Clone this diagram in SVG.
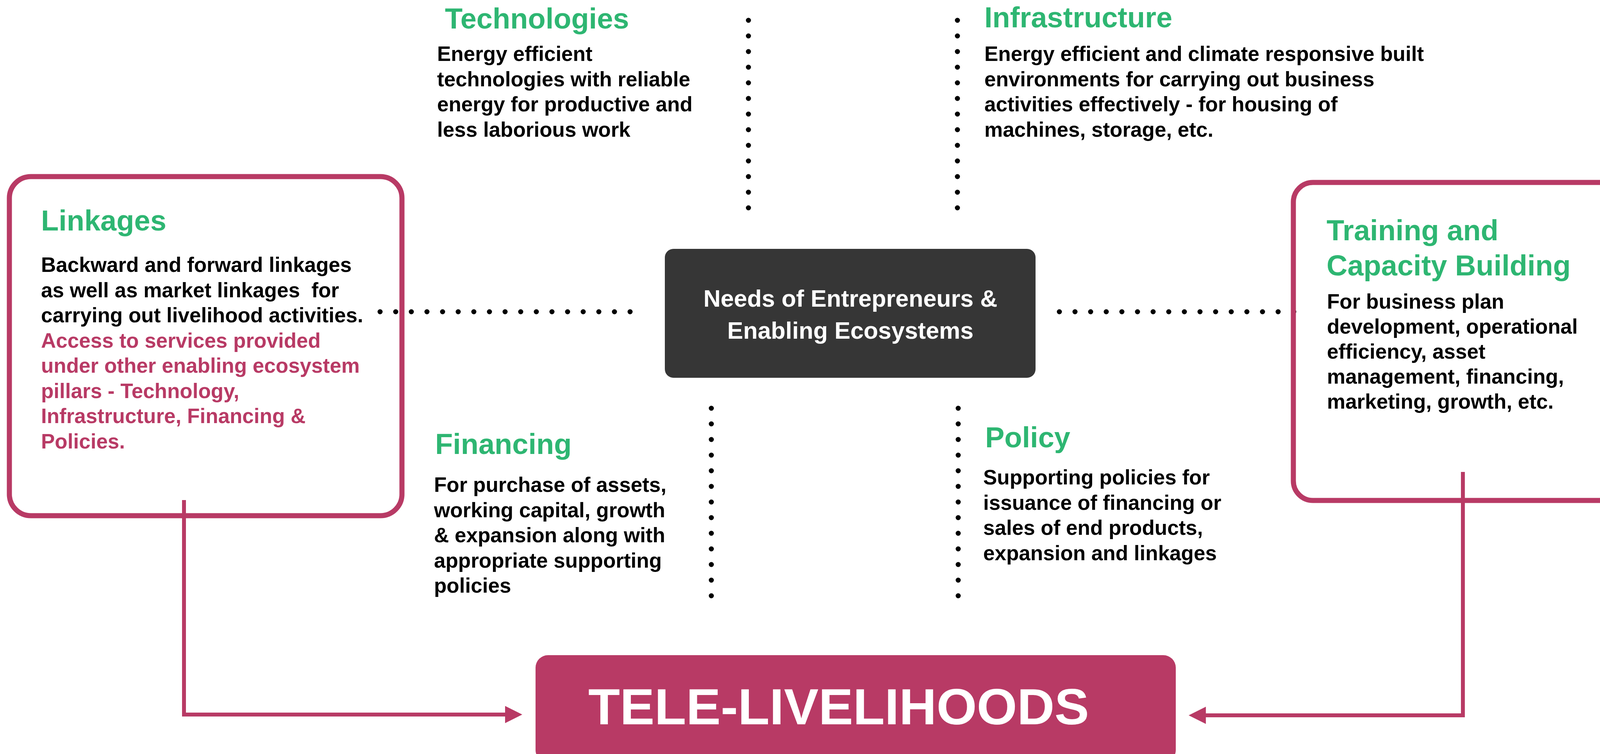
<svg xmlns="http://www.w3.org/2000/svg" width="4225" height="1930" viewBox="0 0 4225 1930">
<style>
  text { font-family: "Liberation Sans", Arial, Helvetica, sans-serif; font-weight: bold; }
  .title { font-size: 74px; fill: #2EB672; }
  .body { font-size: 53px; fill: #000000; }
  .accent { fill: #B83A65; }
  .frame { fill: none; stroke: #B83A65; stroke-width: 13; }
  .dots { fill: none; stroke: #000000; stroke-width: 13; stroke-linecap: round; stroke-dasharray: 0 40; }
  .link { fill: none; stroke: #B83A65; stroke-width: 10; }
</style>
<defs>
  <marker id="arrow" markerUnits="userSpaceOnUse" markerWidth="44" markerHeight="44" viewBox="0 0 44 44" refX="0" refY="22" orient="auto">
    <path d="M0,0 L44,22 L0,44 Z" fill="#B83A65"/>
  </marker>
</defs>
<rect x="0" y="0" width="4225" height="1930" fill="#FFFFFF"/>

<g id="connectors">
  <path class="dots" d="M1916,52 V533"/>
  <path class="dots" d="M2451,52 V533"/>
  <path class="dots" d="M1821,1045 V1526"/>
  <path class="dots" d="M2453,1045 V1526"/>
  <path class="dots" d="M973,798 H1614"/>
  <path class="dots" d="M2712,798 H3313"/>
  <path class="link" d="M471,1280 V1829 H1293" marker-end="url(#arrow)"/>
  <path class="link" d="M3745,1208 V1831 H3087" marker-end="url(#arrow)"/>
</g>

<g id="node-technologies">
  <text class="title" x="1139" y="73">Technologies</text>
  <text class="body" x="1119" y="156">Energy efficient</text>
  <text class="body" x="1119" y="220.5">technologies with reliable</text>
  <text class="body" x="1119" y="285">energy for productive and</text>
  <text class="body" x="1119" y="349.5">less laborious work</text>
</g>

<g id="node-infrastructure">
  <text class="title" x="2520" y="70">Infrastructure</text>
  <text class="body" x="2520" y="156">Energy efficient and climate responsive built</text>
  <text class="body" x="2520" y="220.5">environments for carrying out business</text>
  <text class="body" x="2520" y="285">activities effectively - for housing of</text>
  <text class="body" x="2520" y="349.5">machines, storage, etc.</text>
</g>

<g id="node-linkages">
  <rect class="frame" x="24" y="452" width="1005" height="868" rx="55" ry="55"/>
  <text class="title" x="105" y="590">Linkages</text>
  <text class="body" x="105" y="696">Backward and forward linkages</text>
  <text class="body" x="105" y="760.5" xml:space="preserve">as well as market linkages  for</text>
  <text class="body" x="105" y="825">carrying out livelihood activities.</text>
  <text class="body accent" x="105" y="889.5">Access to services provided</text>
  <text class="body accent" x="105" y="954">under other enabling ecosystem</text>
  <text class="body accent" x="105" y="1018.5">pillars - Technology,</text>
  <text class="body accent" x="105" y="1083">Infrastructure, Financing &amp;</text>
  <text class="body accent" x="105" y="1147.5">Policies.</text>
</g>

<g id="node-center">
  <rect x="1702" y="637" width="949" height="330" rx="22" ry="22" fill="#363636"/>
  <text x="2177" y="785" font-size="61" fill="#FFFFFF" text-anchor="middle">Needs of Entrepreneurs &amp;</text>
  <text x="2177" y="867" font-size="61" fill="#FFFFFF" text-anchor="middle">Enabling Ecosystems</text>
</g>

<g id="node-training">
  <rect class="frame" x="3311" y="467" width="903" height="814" rx="50" ry="50"/>
  <text class="title" x="3396" y="615">Training and</text>
  <text class="title" x="3396" y="705">Capacity Building</text>
  <text class="body" x="3397" y="790">For business plan</text>
  <text class="body" x="3397" y="854">development, operational</text>
  <text class="body" x="3397" y="918">efficiency, asset</text>
  <text class="body" x="3397" y="982">management, financing,</text>
  <text class="body" x="3397" y="1046">marketing, growth, etc.</text>
</g>

<g id="node-financing">
  <text class="title" x="1114" y="1162">Financing</text>
  <text class="body" x="1111" y="1259">For purchase of assets,</text>
  <text class="body" x="1111" y="1323.5">working capital, growth</text>
  <text class="body" x="1111" y="1388">&amp; expansion along with</text>
  <text class="body" x="1111" y="1452.5">appropriate supporting</text>
  <text class="body" x="1111" y="1517">policies</text>
</g>

<g id="node-policy">
  <text class="title" x="2522" y="1145">Policy</text>
  <text class="body" x="2517" y="1240">Supporting policies for</text>
  <text class="body" x="2517" y="1304.5">issuance of financing or</text>
  <text class="body" x="2517" y="1369">sales of end products,</text>
  <text class="body" x="2517" y="1433.5">expansion and linkages</text>
</g>

<g id="node-tele">
  <rect x="1371" y="1677" width="1639" height="275" rx="32" ry="32" fill="#B83A65"/>
  <text x="1506" y="1854" font-size="130" fill="#FFFFFF" textLength="1282" lengthAdjust="spacingAndGlyphs">TELE-LIVELIHOODS</text>
</g>
</svg>
